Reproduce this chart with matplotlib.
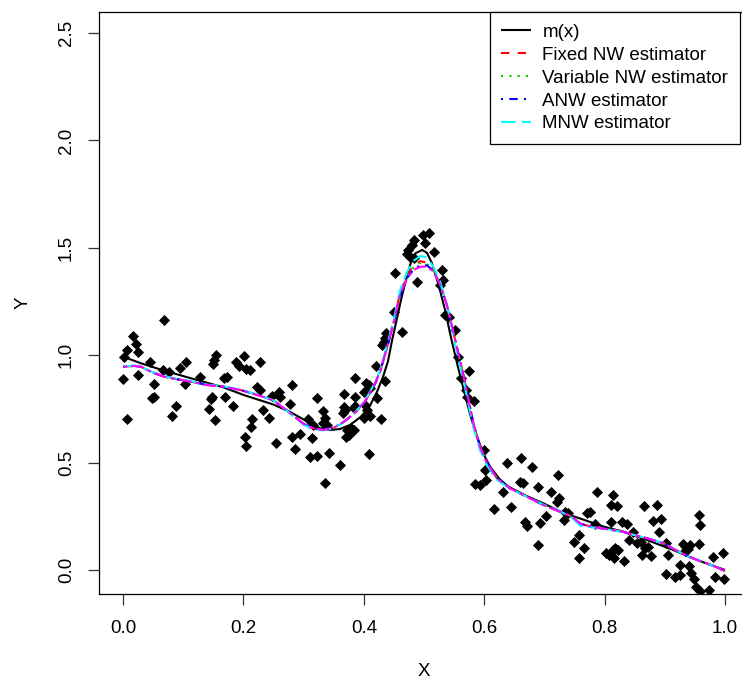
import matplotlib

matplotlib.use("Agg")
import matplotlib.pyplot as plt  # noqa: E402

plt.rcParams.update(
    {
        "font.family": ["Liberation Sans", "DejaVu Sans"],
        "font.size": 13.5,
        "axes.linewidth": 0.9,
        "lines.solid_capstyle": "butt",
        "lines.dash_capstyle": "butt",
    }
)

x_obs = [
    0.000, 0.001, 0.007, 0.007, 0.017, 0.022, 0.025, 0.024, 0.045, 0.048,
    0.052, 0.052, 0.068, 0.067, 0.076, 0.082, 0.088, 0.094, 0.104, 0.103,
    0.128, 0.142, 0.147, 0.146, 0.150, 0.151, 0.154, 0.153, 0.167, 0.173,
    0.170, 0.183, 0.188, 0.192, 0.201, 0.202, 0.205, 0.204, 0.211, 0.212,
    0.215, 0.223, 0.227, 0.228, 0.233, 0.242, 0.248, 0.259, 0.261, 0.254,
    0.277, 0.281, 0.281, 0.286, 0.294, 0.310, 0.314, 0.322, 0.308, 0.316,
    0.322, 0.333, 0.336, 0.332, 0.339, 0.342, 0.336, 0.360, 0.367, 0.367,
    0.368, 0.366, 0.383, 0.386, 0.386, 0.385, 0.378, 0.372, 0.383, 0.375,
    0.371, 0.400, 0.403, 0.408, 0.411, 0.402, 0.405, 0.410, 0.400, 0.408,
    0.421, 0.422, 0.429, 0.436, 0.430, 0.433, 0.436, 0.437, 0.450, 0.452,
    0.463, 0.472, 0.474, 0.477, 0.480, 0.483, 0.484, 0.488, 0.499, 0.502,
    0.508, 0.516, 0.530, 0.531, 0.527, 0.535, 0.541, 0.552, 0.557, 0.562,
    0.569, 0.571, 0.574, 0.583, 0.599, 0.602, 0.603, 0.585, 0.593, 0.617,
    0.631, 0.638, 0.644, 0.661, 0.660, 0.665, 0.668, 0.671, 0.679, 0.689,
    0.692, 0.690, 0.703, 0.711, 0.722, 0.725, 0.721, 0.734, 0.739, 0.732,
    0.750, 0.757, 0.766, 0.757, 0.771, 0.776, 0.787, 0.784, 0.814, 0.810,
    0.820, 0.810, 0.829, 0.837, 0.847, 0.841, 0.854, 0.861, 0.803, 0.808,
    0.814, 0.818, 0.823, 0.815, 0.832, 0.866, 0.887, 0.880, 0.893, 0.890,
    0.873, 0.867, 0.863, 0.878, 0.902, 0.906, 0.902, 0.917, 0.925, 0.925,
    0.931, 0.936, 0.939, 0.933, 0.942, 0.957, 0.959, 0.957, 0.941, 0.943,
    0.949, 0.952, 0.959, 0.973, 0.980, 0.997, 0.984, 0.998,
]
y_obs = [
    0.888, 0.990, 1.024, 0.705, 1.089, 1.050, 1.014, 0.907, 0.967, 0.801,
    0.805, 0.866, 1.164, 0.931, 0.922, 0.718, 0.765, 0.942, 0.967, 0.866,
    0.897, 0.750, 0.807, 0.794, 0.957, 0.978, 1.001, 0.696, 0.892, 0.897,
    0.803, 0.763, 0.970, 0.950, 0.996, 0.621, 0.577, 0.934, 0.931, 0.666,
    0.702, 0.852, 0.966, 0.838, 0.745, 0.708, 0.810, 0.829, 0.805, 0.593,
    0.775, 0.861, 0.617, 0.561, 0.633, 0.527, 0.616, 0.531, 0.703, 0.675,
    0.799, 0.740, 0.706, 0.683, 0.675, 0.543, 0.404, 0.489, 0.818, 0.760,
    0.745, 0.730, 0.753, 0.763, 0.892, 0.807, 0.660, 0.652, 0.652, 0.628,
    0.621, 0.830, 0.869, 0.861, 0.846, 0.768, 0.745, 0.717, 0.706, 0.539,
    0.950, 0.799, 0.702, 0.880, 1.047, 1.063, 1.079, 1.102, 1.200, 1.381,
    1.109, 1.470, 1.490, 1.459, 1.513, 1.536, 1.451, 1.342, 1.560, 1.521,
    1.568, 1.482, 1.397, 1.350, 1.327, 1.187, 1.178, 1.117, 0.993, 0.896,
    0.838, 0.807, 0.926, 0.787, 0.559, 0.466, 0.419, 0.398, 0.396, 0.286,
    0.363, 0.497, 0.291, 0.520, 0.411, 0.404, 0.225, 0.203, 0.481, 0.388,
    0.217, 0.116, 0.251, 0.365, 0.442, 0.333, 0.318, 0.271, 0.265, 0.233,
    0.132, 0.161, 0.100, 0.054, 0.264, 0.271, 0.365, 0.214, 0.351, 0.303,
    0.298, 0.225, 0.225, 0.214, 0.178, 0.140, 0.126, 0.130, 0.079, 0.070,
    0.091, 0.101, 0.091, 0.054, 0.042, 0.298, 0.303, 0.230, 0.236, 0.177,
    0.108, 0.101, 0.070, 0.063, 0.127, 0.070, -0.020, -0.031, -0.023, 0.023,
    0.123, 0.108, 0.098, 0.086, 0.116, 0.256, 0.209, 0.121, 0.019, -0.013,
    -0.044, -0.078, -0.100, -0.093, 0.062, 0.079, -0.031, -0.043,
]

# true regression curve
m_x = [
    0.0, 0.03, 0.065, 0.112, 0.167, 0.2, 0.25, 0.278, 0.31, 0.327,
    0.344, 0.36, 0.377, 0.394, 0.408, 0.422, 0.432, 0.44, 0.447, 0.455,
    0.462, 0.47, 0.478, 0.486, 0.497, 0.505, 0.513, 0.524, 0.535, 0.545,
    0.556, 0.566, 0.576, 0.587, 0.598, 0.61, 0.625, 0.64, 0.67, 0.7,
    0.732, 0.759, 0.798, 0.831, 0.87, 0.914, 0.953, 1.0,
]
m_y = [
    0.993, 0.962, 0.931, 0.893, 0.850, 0.815, 0.770, 0.735, 0.685, 0.660,
    0.652, 0.656, 0.675, 0.711, 0.753, 0.830, 0.900, 0.970, 1.070, 1.170,
    1.260, 1.350, 1.430, 1.475, 1.490, 1.476, 1.430, 1.330, 1.210, 1.080,
    0.950, 0.840, 0.730, 0.630, 0.545, 0.480, 0.425, 0.388, 0.345, 0.308,
    0.265, 0.240, 0.202, 0.178, 0.140, 0.093, 0.047, 0.000,
]

# estimators, all evaluated on the same grid
est_x = [
    0.0, 0.018, 0.03, 0.046, 0.068, 0.09, 0.112, 0.14, 0.167, 0.195,
    0.223, 0.25, 0.278, 0.30, 0.315, 0.333, 0.35, 0.366, 0.383, 0.402,
    0.419, 0.427, 0.438, 0.45, 0.46, 0.472, 0.483, 0.494, 0.505, 0.516,
    0.527, 0.538, 0.546, 0.555, 0.566, 0.574, 0.582, 0.593, 0.605, 0.621,
    0.643, 0.671, 0.698, 0.726, 0.745, 0.76, 0.78, 0.80, 0.83, 0.86,
    0.88, 0.90, 0.92, 0.94, 0.96, 0.98, 1.0,
]
fixed_nw = [
    0.946, 0.950, 0.946, 0.923, 0.900, 0.888, 0.877, 0.861, 0.853, 0.838,
    0.815, 0.790, 0.730, 0.680, 0.660, 0.652, 0.662, 0.688, 0.726, 0.784,
    0.869, 0.923, 1.030, 1.156, 1.290, 1.370, 1.420, 1.438, 1.430, 1.400,
    1.335, 1.234, 1.141, 1.032, 0.900, 0.791, 0.683, 0.574, 0.497, 0.427,
    0.380, 0.341, 0.303, 0.271, 0.250, 0.215, 0.200, 0.192, 0.178, 0.155,
    0.140, 0.122, 0.090, 0.062, 0.040, 0.020, -0.005,
]
variable_nw = [
    0.946, 0.950, 0.946, 0.923, 0.900, 0.888, 0.877, 0.861, 0.853, 0.838,
    0.815, 0.790, 0.730, 0.680, 0.660, 0.652, 0.662, 0.688, 0.726, 0.784,
    0.869, 0.923, 1.030, 1.156, 1.285, 1.365, 1.410, 1.430, 1.425, 1.395,
    1.330, 1.234, 1.141, 1.032, 0.900, 0.791, 0.683, 0.574, 0.497, 0.427,
    0.380, 0.341, 0.303, 0.271, 0.250, 0.215, 0.200, 0.192, 0.178, 0.155,
    0.140, 0.122, 0.090, 0.062, 0.040, 0.020, -0.005,
]
anw = [
    0.946, 0.950, 0.946, 0.923, 0.900, 0.888, 0.877, 0.861, 0.853, 0.838,
    0.815, 0.790, 0.730, 0.680, 0.660, 0.652, 0.662, 0.688, 0.726, 0.784,
    0.869, 0.923, 1.030, 1.156, 1.280, 1.360, 1.400, 1.420, 1.418, 1.392,
    1.330, 1.234, 1.141, 1.032, 0.900, 0.791, 0.683, 0.574, 0.497, 0.427,
    0.380, 0.341, 0.303, 0.271, 0.250, 0.215, 0.200, 0.192, 0.178, 0.155,
    0.140, 0.122, 0.090, 0.062, 0.040, 0.020, -0.005,
]
mnw = [
    0.948, 0.952, 0.946, 0.925, 0.902, 0.890, 0.879, 0.863, 0.855, 0.840,
    0.817, 0.790, 0.728, 0.676, 0.656, 0.650, 0.660, 0.686, 0.726, 0.788,
    0.875, 0.930, 1.040, 1.170, 1.300, 1.390, 1.440, 1.462, 1.455, 1.410,
    1.340, 1.234, 1.130, 1.010, 0.880, 0.770, 0.665, 0.560, 0.485, 0.420,
    0.378, 0.341, 0.305, 0.273, 0.245, 0.205, 0.198, 0.192, 0.176, 0.155,
    0.140, 0.122, 0.090, 0.062, 0.040, 0.020, -0.005,
]
extra_est = [
    0.946, 0.950, 0.946, 0.923, 0.900, 0.888, 0.877, 0.861, 0.853, 0.838,
    0.815, 0.790, 0.730, 0.680, 0.660, 0.652, 0.662, 0.688, 0.726, 0.784,
    0.869, 0.923, 1.030, 1.156, 1.280, 1.358, 1.397, 1.412, 1.412, 1.389,
    1.327, 1.234, 1.141, 1.032, 0.900, 0.791, 0.683, 0.574, 0.497, 0.427,
    0.380, 0.341, 0.303, 0.271, 0.250, 0.215, 0.200, 0.192, 0.178, 0.155,
    0.140, 0.122, 0.090, 0.062, 0.040, 0.020, -0.005,
]

x_ticks = [0.0, 0.2, 0.4, 0.6, 0.8, 1.0]
y_ticks = [0.0, 0.5, 1.0, 1.5, 2.0, 2.5]

W, H = 742, 679
fig = plt.figure(figsize=(W / 100, H / 100), dpi=100)
ax = fig.add_axes([99 / W, (H - 594) / H, 650 / W, 582 / H])

ax.scatter(x_obs, y_obs, marker="D", s=32, color="black", linewidths=0, zorder=2)
ax.plot(m_x, m_y, color="black", lw=1.5, label="m(x)", zorder=3)
ax.plot(est_x, fixed_nw, color="#FF0000", lw=1.5, dashes=(4, 4),
        label="Fixed NW estimator", zorder=4)
ax.plot(est_x, variable_nw, color="#00CD00", lw=1.5, dashes=(1, 3),
        label="Variable NW estimator", zorder=4)
ax.plot(est_x, anw, color="#0000FF", lw=1.5, dashes=(1, 3, 4, 3),
        label="ANW estimator", zorder=4)
ax.plot(est_x, mnw, color="#00FFFF", lw=1.5, dashes=(7, 3),
        label="MNW estimator", zorder=4)
ax.plot(est_x, extra_est, color="#FF00FF", lw=1.5, dashes=(2, 2, 6, 2),
        label="_nolegend_", zorder=5)

ax.set_xlim(-0.04, 1.04)
ax.set_ylim(-0.112, 2.598)
ax.set_xticks(x_ticks, labels=[f"{v:.1f}" for v in x_ticks])
ax.set_yticks(y_ticks, labels=[f"{v:.1f}" for v in y_ticks])
ax.tick_params(direction="out", length=7.9, width=0.9, color="#333333")
ax.tick_params(axis="x", pad=10.5)
ax.tick_params(axis="y", labelrotation=90, pad=9.5)
for lab in ax.get_yticklabels():
    lab.set_va("center")

fig.text(424 / W, 1 - 672 / H, "X", ha="center", va="center")
fig.text(23 / W, 1 - 303 / H, "Y", ha="center", va="center", rotation=90)

leg = ax.legend(
    loc="upper right",
    bbox_to_anchor=(740 / W, 1 - 12 / H),
    bbox_transform=fig.transFigure,
    borderaxespad=0,
    frameon=True,
    fancybox=False,
    framealpha=1,
    edgecolor="black",
    borderpad=0.62,
    labelspacing=0.31,
    handlelength=1.6,
    handletextpad=0.6,
)
leg.get_frame().set_linewidth(0.9)

fig.savefig("out.png", dpi=100)
